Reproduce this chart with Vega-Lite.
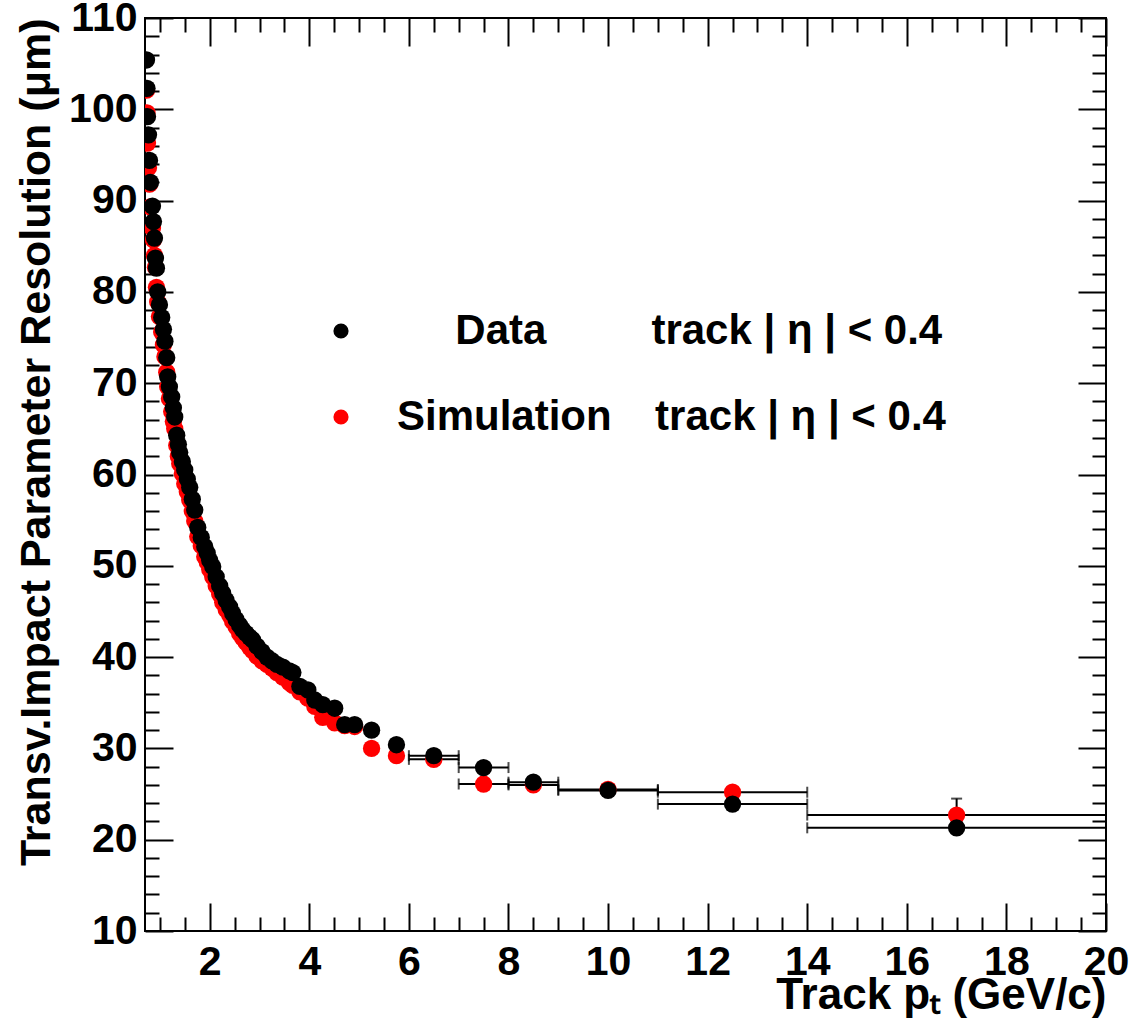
{
  "$schema": "https://vega.github.io/schema/vega-lite/v6.json",
  "width": 961,
  "height": 913,
  "autosize": "none",
  "padding": {"left": 145, "top": 18, "right": 28, "bottom": 97},
  "background": "white",
  "config": {
    "view": {"stroke": "black", "strokeWidth": 2},
    "axis": {
      "domain": false,
      "grid": false,
      "labelFont": "Liberation Sans",
      "labelFontWeight": "bold",
      "labelFontSize": 41,
      "labelColor": "black",
      "labelFlush": false,
      "labelOverlap": false,
      "labelBound": false,
      "titleFont": "Liberation Sans",
      "titleFontWeight": "bold",
      "titleFontSize": 43,
      "titleColor": "black",
      "tickColor": "black",
      "tickWidth": 2
    },
    "legend": {
      "labelFont": "Liberation Sans",
      "labelFontWeight": "bold",
      "labelFontSize": 42,
      "labelColor": "black"
    }
  },
  "data": {
    "values": [
      {"series": "Simulation", "pt": 0.73, "res": 102.1},
      {"series": "Simulation", "pt": 0.74, "res": 99.6},
      {"series": "Simulation", "pt": 0.75, "res": 96.3},
      {"series": "Simulation", "pt": 0.77, "res": 93.6},
      {"series": "Simulation", "pt": 0.79, "res": 91.8},
      {"series": "Simulation", "pt": 0.81, "res": 89.3},
      {"series": "Simulation", "pt": 0.85, "res": 87.0},
      {"series": "Simulation", "pt": 0.87, "res": 85.7},
      {"series": "Simulation", "pt": 0.89, "res": 84.0},
      {"series": "Simulation", "pt": 0.91, "res": 82.7},
      {"series": "Simulation", "pt": 0.93, "res": 80.5},
      {"series": "Simulation", "pt": 0.955, "res": 78.9},
      {"series": "Simulation", "pt": 0.99, "res": 77.3},
      {"series": "Simulation", "pt": 1.035, "res": 75.6},
      {"series": "Simulation", "pt": 1.07, "res": 74.2},
      {"series": "Simulation", "pt": 1.1, "res": 72.9},
      {"series": "Simulation", "pt": 1.136, "res": 71.2},
      {"series": "Simulation", "pt": 1.156, "res": 69.6},
      {"series": "Simulation", "pt": 1.19, "res": 68.3},
      {"series": "Simulation", "pt": 1.236, "res": 66.9},
      {"series": "Simulation", "pt": 1.27, "res": 65.8},
      {"series": "Simulation", "pt": 1.297, "res": 65.0},
      {"series": "Simulation", "pt": 1.337, "res": 63.2},
      {"series": "Simulation", "pt": 1.37, "res": 62.0},
      {"series": "Simulation", "pt": 1.397, "res": 61.2},
      {"series": "Simulation", "pt": 1.45, "res": 60.1},
      {"series": "Simulation", "pt": 1.498, "res": 59.0},
      {"series": "Simulation", "pt": 1.55, "res": 58.1},
      {"series": "Simulation", "pt": 1.598, "res": 57.2},
      {"series": "Simulation", "pt": 1.65, "res": 56.0},
      {"series": "Simulation", "pt": 1.699, "res": 54.9},
      {"series": "Simulation", "pt": 1.759, "res": 53.2},
      {"series": "Simulation", "pt": 1.83, "res": 52.2},
      {"series": "Simulation", "pt": 1.9, "res": 51.0},
      {"series": "Simulation", "pt": 1.95, "res": 50.4},
      {"series": "Simulation", "pt": 2.0, "res": 49.6},
      {"series": "Simulation", "pt": 2.06, "res": 48.8},
      {"series": "Simulation", "pt": 2.13, "res": 47.8},
      {"series": "Simulation", "pt": 2.2, "res": 46.9},
      {"series": "Simulation", "pt": 2.26, "res": 46.0},
      {"series": "Simulation", "pt": 2.33, "res": 45.2},
      {"series": "Simulation", "pt": 2.4, "res": 44.6},
      {"series": "Simulation", "pt": 2.46, "res": 43.9},
      {"series": "Simulation", "pt": 2.53, "res": 43.3},
      {"series": "Simulation", "pt": 2.6, "res": 42.6},
      {"series": "Simulation", "pt": 2.66, "res": 42.1},
      {"series": "Simulation", "pt": 2.73, "res": 41.6},
      {"series": "Simulation", "pt": 2.8, "res": 41.1},
      {"series": "Simulation", "pt": 2.86, "res": 40.7},
      {"series": "Simulation", "pt": 2.95, "res": 40.1},
      {"series": "Simulation", "pt": 3.05, "res": 39.6},
      {"series": "Simulation", "pt": 3.15, "res": 39.2},
      {"series": "Simulation", "pt": 3.25, "res": 38.8},
      {"series": "Simulation", "pt": 3.35, "res": 38.3},
      {"series": "Simulation", "pt": 3.47, "res": 37.8},
      {"series": "Simulation", "pt": 3.6, "res": 37.2},
      {"series": "Simulation", "pt": 3.67, "res": 36.9},
      {"series": "Simulation", "pt": 3.81, "res": 36.2},
      {"series": "Simulation", "pt": 3.97, "res": 35.5},
      {"series": "Simulation", "pt": 4.11, "res": 34.6},
      {"series": "Simulation", "pt": 4.27, "res": 33.4},
      {"series": "Simulation", "pt": 4.51, "res": 32.8},
      {"series": "Simulation", "pt": 4.71, "res": 32.5},
      {"series": "Simulation", "pt": 4.91, "res": 32.4},
      {"series": "Simulation", "pt": 5.25, "res": 30.0},
      {"series": "Simulation", "pt": 5.75, "res": 29.2},
      {"series": "Simulation", "pt": 6.5, "res": 28.8, "lo": 6, "hi": 7},
      {"series": "Simulation", "pt": 7.5, "res": 26.1, "lo": 7, "hi": 8},
      {"series": "Simulation", "pt": 8.5, "res": 26.0, "lo": 8, "hi": 9},
      {"series": "Simulation", "pt": 10, "res": 25.5, "lo": 9, "hi": 11},
      {"series": "Simulation", "pt": 12.5, "res": 25.2, "lo": 11, "hi": 14},
      {"series": "Simulation", "pt": 17, "res": 22.7, "lo": 14, "hi": 20, "ylo": 20.9, "yhi": 24.5},
      {"series": "Data", "pt": 0.73, "res": 105.4},
      {"series": "Data", "pt": 0.74, "res": 102.3},
      {"series": "Data", "pt": 0.75, "res": 99.2},
      {"series": "Data", "pt": 0.77, "res": 97.2},
      {"series": "Data", "pt": 0.79, "res": 94.4},
      {"series": "Data", "pt": 0.81, "res": 92.0},
      {"series": "Data", "pt": 0.85, "res": 89.4},
      {"series": "Data", "pt": 0.87, "res": 87.7},
      {"series": "Data", "pt": 0.89, "res": 85.9},
      {"series": "Data", "pt": 0.91, "res": 83.7},
      {"series": "Data", "pt": 0.93, "res": 82.6},
      {"series": "Data", "pt": 0.955, "res": 80.0},
      {"series": "Data", "pt": 0.99, "res": 78.6},
      {"series": "Data", "pt": 1.035, "res": 77.2},
      {"series": "Data", "pt": 1.07, "res": 75.9},
      {"series": "Data", "pt": 1.1, "res": 74.6},
      {"series": "Data", "pt": 1.136, "res": 72.8},
      {"series": "Data", "pt": 1.156, "res": 70.7},
      {"series": "Data", "pt": 1.19, "res": 69.6},
      {"series": "Data", "pt": 1.236, "res": 68.5},
      {"series": "Data", "pt": 1.27, "res": 67.3},
      {"series": "Data", "pt": 1.297, "res": 66.3},
      {"series": "Data", "pt": 1.337, "res": 64.3},
      {"series": "Data", "pt": 1.37, "res": 63.3},
      {"series": "Data", "pt": 1.397, "res": 62.4},
      {"series": "Data", "pt": 1.45, "res": 61.4},
      {"series": "Data", "pt": 1.498, "res": 60.5},
      {"series": "Data", "pt": 1.55, "res": 59.5},
      {"series": "Data", "pt": 1.598, "res": 58.6},
      {"series": "Data", "pt": 1.65, "res": 57.3},
      {"series": "Data", "pt": 1.699, "res": 56.1},
      {"series": "Data", "pt": 1.759, "res": 54.2},
      {"series": "Data", "pt": 1.83, "res": 53.1},
      {"series": "Data", "pt": 1.9, "res": 52.1},
      {"series": "Data", "pt": 1.95, "res": 51.4},
      {"series": "Data", "pt": 2.0, "res": 50.6},
      {"series": "Data", "pt": 2.06, "res": 49.9},
      {"series": "Data", "pt": 2.13, "res": 48.8},
      {"series": "Data", "pt": 2.2, "res": 47.8},
      {"series": "Data", "pt": 2.26, "res": 47.0},
      {"series": "Data", "pt": 2.33, "res": 46.2},
      {"series": "Data", "pt": 2.4, "res": 45.5},
      {"series": "Data", "pt": 2.46, "res": 44.8},
      {"series": "Data", "pt": 2.53, "res": 44.1},
      {"series": "Data", "pt": 2.6, "res": 43.5},
      {"series": "Data", "pt": 2.66, "res": 43.0},
      {"series": "Data", "pt": 2.73, "res": 42.6},
      {"series": "Data", "pt": 2.8, "res": 42.2},
      {"series": "Data", "pt": 2.86, "res": 41.9},
      {"series": "Data", "pt": 2.95, "res": 41.2},
      {"series": "Data", "pt": 3.05, "res": 40.6},
      {"series": "Data", "pt": 3.15, "res": 40.0},
      {"series": "Data", "pt": 3.25, "res": 39.6},
      {"series": "Data", "pt": 3.35, "res": 39.2},
      {"series": "Data", "pt": 3.47, "res": 38.9},
      {"series": "Data", "pt": 3.6, "res": 38.5},
      {"series": "Data", "pt": 3.67, "res": 38.3},
      {"series": "Data", "pt": 3.81, "res": 36.8},
      {"series": "Data", "pt": 3.97, "res": 36.4},
      {"series": "Data", "pt": 4.11, "res": 35.3},
      {"series": "Data", "pt": 4.27, "res": 34.8},
      {"series": "Data", "pt": 4.51, "res": 34.4},
      {"series": "Data", "pt": 4.71, "res": 32.6},
      {"series": "Data", "pt": 4.91, "res": 32.6},
      {"series": "Data", "pt": 5.25, "res": 32.0},
      {"series": "Data", "pt": 5.75, "res": 30.4},
      {"series": "Data", "pt": 6.5, "res": 29.2, "lo": 6, "hi": 7},
      {"series": "Data", "pt": 7.5, "res": 27.9, "lo": 7, "hi": 8},
      {"series": "Data", "pt": 8.5, "res": 26.3, "lo": 8, "hi": 9},
      {"series": "Data", "pt": 10, "res": 25.4, "lo": 9, "hi": 11},
      {"series": "Data", "pt": 12.5, "res": 23.9, "lo": 11, "hi": 14},
      {"series": "Data", "pt": 17, "res": 21.3, "lo": 14, "hi": 20}
    ]
  },
  "resolve": {"axis": {"x": "independent", "y": "independent"}},
  "layer": [
    {
      "transform": [{"filter": "isValid(datum.lo)"}],
      "mark": {"type": "rule", "color": "black", "strokeWidth": 2, "clip": true},
      "encoding": {
        "x": {
          "field": "lo", "type": "quantitative",
          "scale": {"domain": [0.7, 20], "nice": false, "zero": false},
          "axis": {
            "orient": "bottom", "ticks": false,
            "values": [2, 4, 6, 8, 10, 12, 14, 16, 18, 20],
            "labelPadding": 11,
            "title": "Track pₜ (GeV/c)",
            "titleFontSize": 44,
            "titleAnchor": "end", "titleAlign": "right", "titlePadding": -9
          }
        },
        "x2": {"field": "hi"},
        "y": {
          "field": "res", "type": "quantitative",
          "scale": {"domain": [10, 110], "nice": false, "zero": false},
          "axis": {
            "orient": "left", "ticks": false,
            "values": [10, 20, 30, 40, 50, 60, 70, 80, 90, 100, 110],
            "labelPadding": 8,
            "title": "Transv.Impact Parameter Resolution (μm)",
            "titleAnchor": "end", "titlePadding": 10
          }
        }
      }
    },
    {
      "transform": [{"filter": "isValid(datum.lo)"}],
      "mark": {"type": "tick", "orient": "vertical", "color": "black", "thickness": 2, "size": 11, "clip": true},
      "encoding": {
        "x": {
          "field": "lo", "type": "quantitative",
          "axis": {"orient": "bottom", "labels": false, "title": null, "tickSize": -28,
                   "values": [2, 4, 6, 8, 10, 12, 14, 16, 18, 20]}
        },
        "y": {
          "field": "res", "type": "quantitative",
          "axis": {"orient": "left", "labels": false, "title": null, "tickSize": -28,
                   "values": [10, 20, 30, 40, 50, 60, 70, 80, 90, 100, 110]}
        }
      }
    },
    {
      "transform": [{"filter": "isValid(datum.hi)"}],
      "mark": {"type": "tick", "orient": "vertical", "color": "black", "thickness": 2, "size": 11, "clip": true},
      "encoding": {
        "x": {
          "field": "hi", "type": "quantitative",
          "axis": {"orient": "bottom", "labels": false, "title": null, "tickSize": -14,
                   "values": [1, 1.5, 2.5, 3, 3.5, 4.5, 5, 5.5, 6.5, 7, 7.5, 8.5, 9, 9.5, 10.5, 11, 11.5, 12.5, 13, 13.5, 14.5, 15, 15.5, 16.5, 17, 17.5, 18.5, 19, 19.5]}
        },
        "y": {
          "field": "res", "type": "quantitative",
          "axis": {"orient": "left", "labels": false, "title": null, "tickSize": -14,
                   "values": [12, 14, 16, 18, 22, 24, 26, 28, 32, 34, 36, 38, 42, 44, 46, 48, 52, 54, 56, 58, 62, 64, 66, 68, 72, 74, 76, 78, 82, 84, 86, 88, 92, 94, 96, 98, 102, 104, 106, 108]}
        }
      }
    },
    {
      "transform": [{"filter": "isValid(datum.ylo)"}],
      "mark": {"type": "rule", "color": "black", "strokeWidth": 2, "clip": true},
      "encoding": {
        "x": {
          "field": "pt", "type": "quantitative",
          "axis": {"orient": "top", "labels": false, "title": null, "tickSize": -28,
                   "values": [2, 4, 6, 8, 10, 12, 14, 16, 18, 20]}
        },
        "y": {
          "field": "ylo", "type": "quantitative",
          "axis": {"orient": "right", "labels": false, "title": null, "tickSize": -28,
                   "values": [10, 20, 30, 40, 50, 60, 70, 80, 90, 100, 110]}
        },
        "y2": {"field": "yhi"}
      }
    },
    {
      "transform": [{"filter": "isValid(datum.yhi)"}],
      "mark": {"type": "tick", "orient": "horizontal", "color": "black", "thickness": 2, "size": 11, "clip": true},
      "encoding": {
        "x": {
          "field": "pt", "type": "quantitative",
          "axis": {"orient": "top", "labels": false, "title": null, "tickSize": -14,
                   "values": [1, 1.5, 2.5, 3, 3.5, 4.5, 5, 5.5, 6.5, 7, 7.5, 8.5, 9, 9.5, 10.5, 11, 11.5, 12.5, 13, 13.5, 14.5, 15, 15.5, 16.5, 17, 17.5, 18.5, 19, 19.5]}
        },
        "y": {
          "field": "yhi", "type": "quantitative",
          "axis": {"orient": "right", "labels": false, "title": null, "tickSize": -14,
                   "values": [12, 14, 16, 18, 22, 24, 26, 28, 32, 34, 36, 38, 42, 44, 46, 48, 52, 54, 56, 58, 62, 64, 66, 68, 72, 74, 76, 78, 82, 84, 86, 88, 92, 94, 96, 98, 102, 104, 106, 108]}
        }
      }
    },
    {
      "mark": {"type": "point", "shape": "circle", "filled": true, "size": 300, "opacity": 1, "strokeWidth": 0, "clip": true},
      "encoding": {
        "x": {"field": "pt", "type": "quantitative", "axis": null},
        "y": {"field": "res", "type": "quantitative", "axis": null},
        "color": {
          "field": "series", "type": "nominal",
          "scale": {"domain": ["Data", "Simulation"], "range": ["#000000", "#ff0000"]},
          "legend": {
            "title": null,
            "orient": "none",
            "legendX": 175,
            "legendY": 292,
            "padding": 0,
            "symbolType": "circle",
            "symbolSize": 230,
            "symbolStrokeWidth": 0,
            "symbolOpacity": 1,
            "labelOffset": 35,
            "rowPadding": 44,
            "labelLimit": 1000,
            "labelExpr": "datum.label == 'Data' ? '\u200b\u00a0\u00a0\u00a0\u00a0\u00a0Data\u00a0\u00a0\u00a0\u00a0\u00a0\u00a0\u00a0\u00a0\u00a0track | η | < 0.4' : 'Simulation\u00a0\u00a0\u00a0\u2009track | η | < 0.4'"
          }
        }
      }
    }
  ]
}
